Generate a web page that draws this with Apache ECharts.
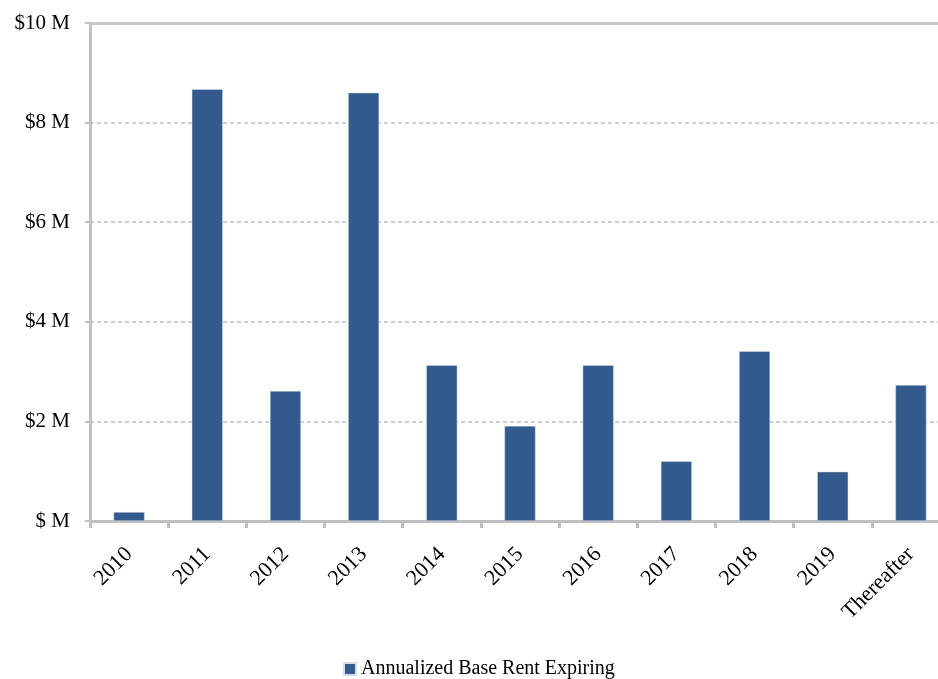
<!DOCTYPE html>
<html>
<head>
<meta charset="utf-8">
<script src="https://cdn.jsdelivr.net/npm/echarts@6/dist/echarts.min.js"></script>
<style>html,body{margin:0;padding:0;background:#fff;}#c{width:938px;height:679px;}</style>
</head>
<body>
<div id="c"></div>
<script>
var categories = ['2010','2011','2012','2013','2014','2015','2016','2017','2018','2019','Thereafter'];
var rentMillions = [0.18, 8.67, 2.61, 8.60, 3.13, 1.91, 3.13, 1.20, 3.41, 0.99, 2.73];
var seriesName = 'Annualized Base Rent Expiring';
var yTicks = [0, 2, 4, 6, 8, 10];

var font = '"Liberation Serif", "Times New Roman", serif';
var chart = echarts.init(document.getElementById('c'), null, {renderer: 'canvas'});
chart.setOption({
  animation: false,
  backgroundColor: '#ffffff',
  grid: {left: 90, top: 23, right: -12, bottom: 158, containLabel: false, outerBoundsMode: 'none'},
  legend: {
    data: [seriesName],
    left: 338, top: 654,
    icon: 'rect', itemWidth: 12, itemHeight: 12, itemGap: 6,
    textStyle: {fontFamily: font, fontSize: 20, color: '#000'}
  },
  xAxis: [{
    type: 'category',
    data: categories,
    boundaryGap: true,
    axisLine: {show: true, lineStyle: {color: '#bfbfbf', width: 3}},
    axisTick: {show: true, length: 7, lineStyle: {color: '#bfbfbf', width: 3}},
    axisLabel: {rotate: 45, margin: 30, fontFamily: font, fontSize: 22, color: '#000', interval: 0}
  }, {
    type: 'category',
    position: 'top',
    data: categories,
    axisLine: {show: true, lineStyle: {color: '#c8c8c8', width: 3}},
    axisTick: {show: false},
    axisLabel: {show: false}
  }],
  yAxis: {
    type: 'value',
    min: yTicks[0], max: yTicks[yTicks.length - 1], interval: 2,
    axisLine: {show: true, lineStyle: {color: '#bfbfbf', width: 3}},
    axisTick: {show: true, length: 5, lineStyle: {color: '#bfbfbf', width: 2}},
    splitLine: {show: true, lineStyle: {color: '#bfbfbf', width: 1.5, type: [4, 3]}},
    axisLabel: {
      margin: 20, fontFamily: font, fontSize: 21, color: '#000',
      formatter: function (v) { return v === 0 ? '$ M' : '$' + v + ' M'; }
    }
  },
  series: [{
    name: seriesName,
    type: 'bar',
    data: rentMillions,
    barWidth: 31,
    itemStyle: {color: '#325a8c', borderColor: '#d6dde8', borderWidth: 0.5}
  }]
});
</script>
</body>
</html>
